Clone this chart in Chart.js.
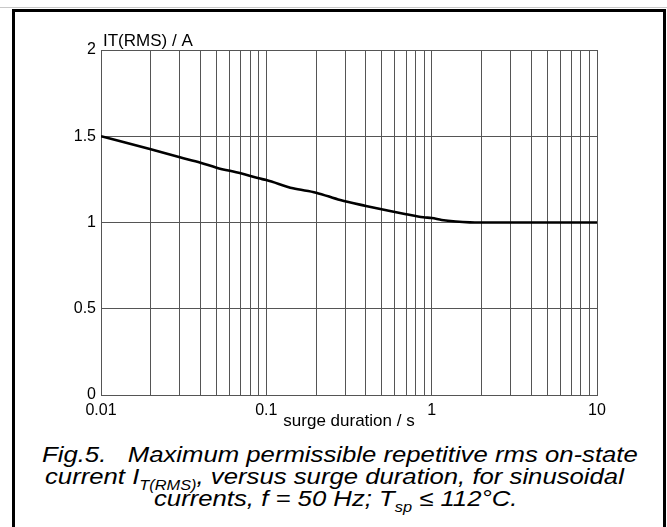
<!DOCTYPE html>
<html>
<head>
<meta charset="utf-8">
<script src="https://cdn.jsdelivr.net/npm/chart.js@4/dist/chart.umd.min.js"></script>
<style>
  html, body { margin: 0; padding: 0; background: #fff; }
  #page { position: relative; width: 667px; height: 527px; overflow: hidden; }
  #topline { position: absolute; left: 0; top: 7px; width: 667px; height: 1px; background: #c8c8c8; }
  #frame { position: absolute; left: 12px; top: 9px; width: 648px; height: 530px;
           border: 3px solid #000; border-bottom: none; }
  #chart { position: absolute; left: 0; top: 0; }
  .cap { position: absolute; white-space: nowrap; font-family: "Liberation Sans", Arial, sans-serif;
         font-style: italic; font-size: 22px; line-height: 22px; color: #000; transform-origin: 0 0; }
  .cap sub { font-size: 14px; vertical-align: -6px; line-height: 0; }
</style>
</head>
<body>
<div id="page">
  <div id="topline"></div>
  <div id="frame"></div>
  <canvas id="chart" width="667" height="440"></canvas>
  <div class="cap" id="cap1" style="left:42px; top:444px;">Fig.5.&nbsp;&nbsp; Maximum permissible repetitive rms on-state</div>
  <div class="cap" id="cap2" style="left:45px; top:466px;">current I<sub>T(RMS)</sub>, versus surge duration, for sinusoidal</div>
  <div class="cap" id="cap3" style="left:154px; top:488px;">currents, f = 50 Hz; T<sub>sp</sub> ≤ 112°C.</div>
</div>
<script>
// surge duration (s) and permissible rms current (A)
const durations = [0.01, 0.02, 0.03, 0.04, 0.05, 0.07, 0.09, 0.1, 0.145, 0.2, 0.28, 0.4, 0.55, 0.7, 0.89, 1.0, 1.15, 1.4, 1.7, 2.0, 3, 5, 10];
const currents  = [1.5, 1.424, 1.378, 1.347, 1.318, 1.285, 1.256, 1.246, 1.198, 1.173, 1.13, 1.096, 1.068, 1.048, 1.03, 1.026, 1.015, 1.006, 1.001, 1.0, 1.0, 1.0, 1.0];

const decadeLabels = ["0.01", "0.1", "1", "10"];
const yTickLabels = ["0", "0.5", "1", "1.5", "2"];

// grid at 1..9 x each decade, plus the last decade line
const xGrid = [];
decadeLabels.slice(0, -1).forEach(d => {
    for (let m = 1; m <= 9; m++) xGrid.push(parseFloat((m * parseFloat(d)).toPrecision(3)));
});
xGrid.push(parseFloat(decadeLabels[decadeLabels.length - 1]));

const gridColor = "#555";
const tickFont = { family: "Liberation Sans, Arial, sans-serif", size: 16 };
const titleFont = { family: "Liberation Sans, Arial, sans-serif", size: 17 };

const yTitle = {
    id: "yTitle",
    afterDraw(chart) {
        const ctx = chart.ctx;
        ctx.save();
        ctx.font = "17px 'Liberation Sans', Arial, sans-serif";
        ctx.fillStyle = "#000";
        ctx.textBaseline = "alphabetic";
        ctx.fillText("IT(RMS) / A", chart.chartArea.left + 2, 46);
        ctx.restore();
    }
};

new Chart(document.getElementById("chart"), {
    type: "line",
    data: {
        datasets: [{
            data: durations.map((t, i) => ({ x: t, y: currents[i] })),
            borderColor: "#000",
            borderWidth: 2.6,
            pointRadius: 0,
            cubicInterpolationMode: "monotone",
            fill: false
        }]
    },
    options: {
        responsive: false,
        animation: false,
        layout: { padding: { left: 0, top: 50, right: 70, bottom: 0 } },
        plugins: { legend: { display: false }, tooltip: { enabled: false }, title: { display: false } },
        scales: {
            x: {
                type: "logarithmic",
                min: 0.01,
                max: 10,
                afterBuildTicks: s => { s.ticks = xGrid.map(v => ({ value: v })); },
                afterFit: s => { s.height = 45; },
                ticks: {
                    autoSkip: false,
                    maxRotation: 0,
                    padding: 6,
                    color: "#000",
                    font: tickFont,
                    callback: v => {
                        const lab = decadeLabels.find(d => Math.abs(parseFloat(d) - v) < 1e-9);
                        return lab === undefined ? "" : lab;
                    }
                },
                grid: { color: gridColor, lineWidth: 1, drawTicks: false },
                border: { color: gridColor, width: 1 },
                title: {
                    display: true,
                    text: "surge duration / s",
                    color: "#000",
                    font: titleFont,
                    padding: { top: 0, bottom: 8 }
                }
            },
            y: {
                min: 0,
                max: 2,
                afterFit: s => { s.width = 101; },
                ticks: {
                    stepSize: 0.5,
                    padding: 5,
                    color: "#000",
                    font: tickFont,
                    callback: v => yTickLabels[Math.round(v / 0.5)]
                },
                grid: { color: gridColor, lineWidth: 1, drawTicks: false },
                border: { color: gridColor, width: 1 }
            }
        }
    },
    plugins: [yTitle]
});

// stretch caption lines to the width of the original (wide italic face)
const scale = 596 / document.getElementById("cap1").offsetWidth;
["cap1", "cap2", "cap3"].forEach(id => {
    document.getElementById(id).style.transform = "scaleX(" + scale + ")";
});
</script>
</body>
</html>
